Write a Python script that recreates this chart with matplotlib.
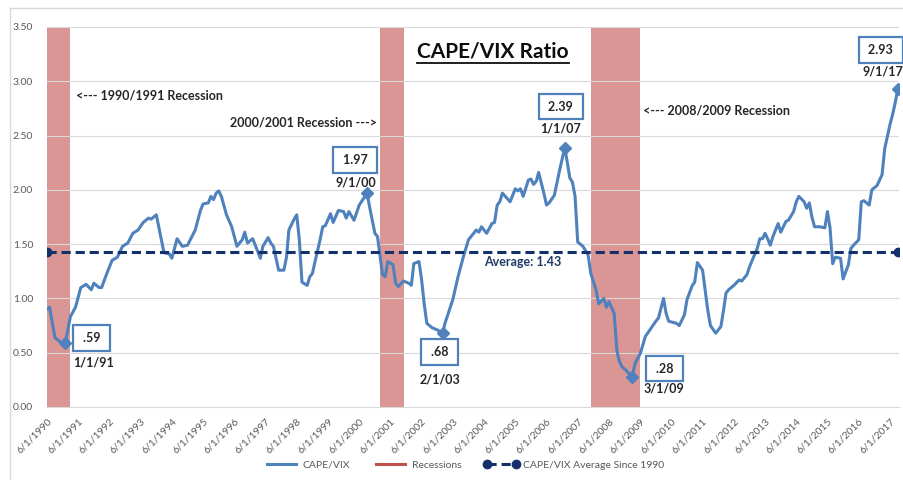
import matplotlib
matplotlib.use("Agg")
import matplotlib.pyplot as plt
from matplotlib.lines import Line2D
from matplotlib.transforms import IdentityTransform
import pandas as pd

plt.rcParams['font.family'] = ['Lato', 'DejaVu Sans']

# CAPE/VIX ratio (month, value)
months = [
    '1990-06', '1990-07', '1990-09', '1990-11', '1991-01', '1991-03', '1991-05', '1991-07',
    '1991-09', '1991-11', '1991-12', '1992-02', '1992-03', '1992-05', '1992-07', '1992-09',
    '1992-11', '1993-01', '1993-03', '1993-05', '1993-07', '1993-09', '1993-10', '1993-12',
    '1994-03', '1994-05', '1994-06', '1994-08', '1994-10', '1994-12', '1995-03', '1995-05',
    '1995-06', '1995-08', '1995-09', '1995-10', '1995-11', '1995-12', '1996-01', '1996-03',
    '1996-05', '1996-07', '1996-09', '1996-10', '1996-11', '1997-01', '1997-02', '1997-04',
    '1997-05', '1997-07', '1997-08', '1997-09', '1997-11', '1998-01', '1998-02', '1998-03',
    '1998-05', '1998-06', '1998-07', '1998-08', '1998-10', '1998-11', '1998-12', '1999-01',
    '1999-03', '1999-04', '1999-05', '1999-07', '1999-08', '1999-10', '1999-12', '2000-01',
    '2000-02', '2000-04', '2000-06', '2000-09', '2000-10', '2000-12', '2001-01', '2001-02',
    '2001-03', '2001-04', '2001-05', '2001-07', '2001-08', '2001-09', '2001-11', '2002-01',
    '2002-02', '2002-03', '2002-05', '2002-06', '2002-07', '2002-08', '2002-10', '2002-12',
    '2003-02', '2003-03', '2003-06', '2003-08', '2003-10', '2003-12', '2004-03', '2004-04',
    '2004-05', '2004-06', '2004-07', '2004-09', '2004-10', '2004-11', '2004-12', '2005-01',
    '2005-04', '2005-06', '2005-07', '2005-08', '2005-09', '2005-11', '2005-12', '2006-01',
    '2006-02', '2006-03', '2006-05', '2006-06', '2006-07', '2006-09', '2006-11', '2007-01',
    '2007-02', '2007-03', '2007-04', '2007-05', '2007-06', '2007-08', '2007-10', '2007-11',
    '2008-01', '2008-02', '2008-04', '2008-05', '2008-06', '2008-08', '2008-09', '2008-10',
    '2008-11', '2008-12', '2009-03', '2009-04', '2009-06', '2009-08', '2009-10', '2009-12',
    '2010-01', '2010-03', '2010-04', '2010-05', '2010-08', '2010-09', '2010-11', '2010-12',
    '2011-02', '2011-03', '2011-04', '2011-06', '2011-08', '2011-09', '2011-11', '2012-01',
    '2012-02', '2012-03', '2012-04', '2012-06', '2012-08', '2012-09', '2012-11', '2012-12',
    '2013-01', '2013-03', '2013-04', '2013-05', '2013-06', '2013-07', '2013-08', '2013-09',
    '2013-11', '2013-12', '2014-02', '2014-03', '2014-05', '2014-06', '2014-07', '2014-09',
    '2014-10', '2014-11', '2014-12', '2015-01', '2015-03', '2015-05', '2015-06', '2015-07',
    '2015-08', '2015-09', '2015-11', '2015-12', '2016-02', '2016-03', '2016-04', '2016-06',
    '2016-07', '2016-08', '2016-10', '2016-11', '2017-01', '2017-03', '2017-04', '2017-06',
    '2017-07', '2017-08', '2017-09',
]
ratio = [
    0.90, 0.92, 0.64, 0.60, 0.59, 0.83, 0.92, 1.10,
    1.13, 1.08, 1.14, 1.10, 1.10, 1.23, 1.35, 1.38,
    1.48, 1.51, 1.60, 1.63, 1.70, 1.74, 1.73, 1.77,
    1.42, 1.41, 1.37, 1.55, 1.48, 1.49, 1.63, 1.81,
    1.87, 1.88, 1.94, 1.91, 1.97, 1.99, 1.94, 1.77,
    1.66, 1.48, 1.54, 1.61, 1.51, 1.55, 1.49, 1.37,
    1.48, 1.56, 1.51, 1.48, 1.26, 1.26, 1.38, 1.63,
    1.73, 1.77, 1.54, 1.15, 1.12, 1.20, 1.23, 1.34,
    1.54, 1.66, 1.67, 1.78, 1.70, 1.81, 1.80, 1.74,
    1.80, 1.72, 1.86, 1.97, 1.84, 1.60, 1.57, 1.38,
    1.22, 1.20, 1.34, 1.31, 1.14, 1.11, 1.16, 1.14,
    1.12, 1.32, 1.34, 1.17, 0.95, 0.77, 0.73, 0.71,
    0.68, 0.77, 0.99, 1.20, 1.38, 1.54, 1.63, 1.61,
    1.66, 1.63, 1.60, 1.69, 1.70, 1.86, 1.89, 1.97,
    1.89, 2.01, 1.99, 2.01, 1.94, 2.09, 2.10, 2.05,
    2.08, 2.16, 1.97, 1.86, 1.88, 1.95, 2.18, 2.39,
    2.24, 2.11, 2.07, 1.94, 1.52, 1.48, 1.40, 1.23,
    1.08, 0.95, 1.00, 0.92, 0.97, 0.86, 0.52, 0.42,
    0.37, 0.35, 0.28, 0.40, 0.49, 0.65, 0.72, 0.79,
    0.82, 1.00, 0.86, 0.79, 0.77, 0.75, 0.85, 0.99,
    1.12, 1.15, 1.33, 1.26, 0.89, 0.75, 0.68, 0.74,
    0.89, 1.05, 1.08, 1.12, 1.17, 1.16, 1.22, 1.29,
    1.35, 1.46, 1.55, 1.55, 1.60, 1.55, 1.49, 1.57,
    1.69, 1.61, 1.71, 1.72, 1.80, 1.89, 1.94, 1.89,
    1.83, 1.88, 1.75, 1.66, 1.66, 1.65, 1.80, 1.65,
    1.32, 1.38, 1.37, 1.18, 1.31, 1.46, 1.49, 1.54,
    1.89, 1.90, 1.86, 2.00, 2.04, 2.14, 2.38, 2.60,
    2.69, 2.80, 2.93,
]
avg_ratio = 1.43

# recessions (shaded bands)
rec_start = ['1990-06', '2001-02', '2007-11']
rec_end = ['1991-03', '2001-11', '2009-06']
rec_notes = ['<--- 1990/1991 Recession', '2000/2001 Recession --->', '<--- 2008/2009 Recession']
rec_note_y = [2.87, 2.62, 2.73]

# highlighted points
hl_months = ['1991-01', '2000-09', '2003-02', '2007-01', '2009-03', '2017-09']
hl_values = ['.59', '1.97', '.68', '2.39', '.28', '2.93']
hl_dates = ['1/1/91', '9/1/00', '2/1/03', '1/1/07', '3/1/09', '9/1/17']

tick_years = list(range(1990, 2018))

# ---- styling / layout
BLUE = '#4f81bd'
NAVY = '#14306a'
BAND = '#d99694'
GRID = '#d9d9d9'
TXT = '#595959'

box_off = [(26, 5), (-12, 33), (-3, -19), (-4, 41), (32, 8), (-17, 39)]
date_off = [(28, -20), (-11, 11), (-3, -46), (-4, 19), (32, -12), (-15, 17)]
note_off = [(6, 0), (-3, 0), (3, 0)]
note_ha = ['left', 'right', 'left']

dates = pd.to_datetime(months)
fig = plt.figure(figsize=(9.04, 4.8), dpi=100)
ax = fig.add_axes([47 / 904, 73 / 480, 852 / 904, 380 / 480])

# recession bands
for s, e in zip(rec_start, rec_end):
    ax.axvspan(pd.Timestamp(s), pd.Timestamp(e), color=BAND, lw=0, zorder=0)

# horizontal grid above the bands
ax.set_ylim(0, 3.5)
yticks = [i * 0.5 for i in range(8)]
for yv in yticks[1:]:
    ax.axhline(yv, color=GRID, lw=0.8, zorder=1)

ax.plot(dates, ratio, color=BLUE, lw=2.2, zorder=3, solid_joinstyle='round')

# average line
ax.plot([dates[0], dates[-1]], [avg_ratio, avg_ratio], color=NAVY, lw=2.2,
        linestyle=(0, (3, 1.6)), marker='o', ms=6, zorder=4)
ax.annotate(f'Average: {avg_ratio:.2f}', xy=(pd.Timestamp('2004-06-01'), avg_ratio),
            xytext=(0, -10), textcoords='offset pixels', ha='left', va='center',
            fontsize=9, fontweight='bold', color='#1f3864')

# highlighted points with boxes
for m, v, d, bo, do in zip(hl_months, hl_values, hl_dates, box_off, date_off):
    t = pd.Timestamp(m)
    yv = ratio[months.index(m)]
    ax.plot([t], [yv], marker='D', ms=6, color=BLUE, zorder=5)
    ax.annotate(f' {v} ', xy=(t, yv), xytext=bo, textcoords='offset pixels',
                ha='center', va='center', fontsize=9, fontweight='bold', color='#262626',
                bbox=dict(boxstyle='square,pad=0.55', fc='white', ec=BLUE, lw=1.6), zorder=6)
    ax.annotate(d, xy=(t, yv), xytext=do, textcoords='offset pixels',
                ha='center', va='center', fontsize=9, fontweight='bold', color='#262626', zorder=6)

# recession notes
for s, e, txt, yv, off, ha in zip(rec_start, rec_end, rec_notes, rec_note_y, note_off, note_ha):
    x = pd.Timestamp(e) if ha == 'left' else pd.Timestamp(s)
    ax.annotate(txt, xy=(x, yv), xytext=off, textcoords='offset pixels', ha=ha, va='center',
                fontsize=9, fontweight='bold', color='#262626')

# axes
ax.set_xlim(dates[0], dates[-1] + pd.Timedelta(days=14))
ax.set_yticks(yticks)
ax.set_yticklabels([f'{v:.2f}' for v in yticks])
ax.set_xticks([pd.Timestamp(f'{y}-06-01') for y in tick_years])
ax.set_xticklabels([f'6/1/{y}' for y in tick_years], rotation=45, ha='right',
                   rotation_mode='anchor')
ax.tick_params(axis='y', length=0, pad=10, labelsize=7.5, labelcolor=TXT)
ax.tick_params(axis='x', length=0, pad=7, labelsize=7.5, labelcolor=TXT)
for sp in ['top', 'left', 'right']:
    ax.spines[sp].set_visible(False)
ax.spines['bottom'].set_color(GRID)
ax.spines['bottom'].set_zorder(1)

# title, underlined
title = fig.text(493 / 904, 1 - 52 / 480, 'CAPE/VIX Ratio', ha='center', va='center',
                 fontsize=15, fontweight='bold', color='#0d0d0d')

# legend
handles = [
    Line2D([], [], color=BLUE, lw=2.2),
    Line2D([], [], color='#c0504d', lw=2.2),
    Line2D([], [], color=NAVY, lw=2.2, linestyle=(0, (3, 1.6)), marker='o', ms=6),
]
fig.legend(handles, ['CAPE/VIX', 'Recessions', 'CAPE/VIX Average Since 1990'],
           loc='center', bbox_to_anchor=(464 / 904, 1 - 465 / 480), ncol=3, frameon=False,
           fontsize=7.5, labelcolor=TXT, handlelength=3.4, numpoints=2,
           columnspacing=2.2, handletextpad=0.3)

# chart border (left and top)
fig.add_artist(Line2D([10 / 904, 10 / 904], [0, 1 - 8 / 480], color='#d9d9d9', lw=1))
fig.add_artist(Line2D([10 / 904, 1], [1 - 8 / 480, 1 - 8 / 480], color='#d9d9d9', lw=1))

fig.canvas.draw()
bb = title.get_window_extent()
fig.add_artist(Line2D([bb.x0, bb.x1], [bb.y0 - 1, bb.y0 - 1], color='#0d0d0d', lw=1.3,
                      transform=IdentityTransform()))

fig.savefig('out.png', dpi=100)
